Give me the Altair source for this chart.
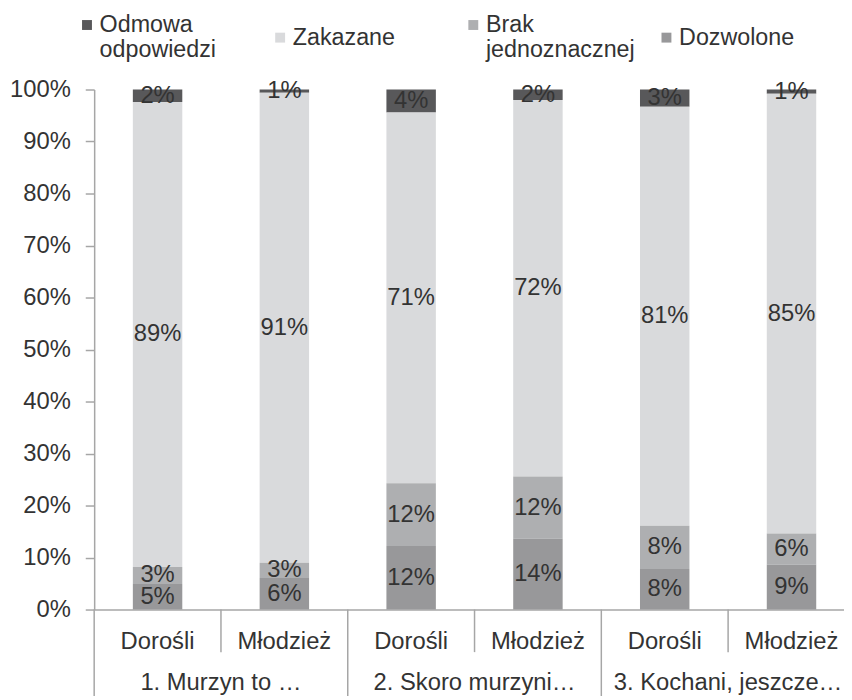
import altair as alt
import pandas as pd

groups = ["1. Murzyn to …", "2. Skoro murzyni…", "3. Kochani, jeszcze…"]
subgroups = ["Dorośli", "Młodzież"]
categories = ["Odmowa|odpowiedzi", "Zakazane", "Brak|jednoznacznej", "Dozwolone"]
colors = ["#58585a", "#d9dadc", "#aeafb1", "#98989a"]
stack_rank = [3, 2, 1, 0]  # Dozwolone at the bottom

# one value per bar, bars in order: (g1 Dorośli, g1 Młodzież, g2 D, g2 M, g3 D, g3 M)
odmowa = [2.4, 0.6, 4.4, 2.0, 3.3, 0.8]
zakazane = [89.4, 90.6, 71.3, 72.4, 80.6, 84.6]
brak = [3.3, 2.9, 12.1, 12.0, 8.3, 6.0]
dozwolone = [4.9, 6.1, 12.2, 13.6, 7.8, 8.6]

series = [odmowa, zakazane, brak, dozwolone]

slots = []
slot_group = []
slot_sub = []
for gi, g in enumerate(groups):
    for s in subgroups:
        slots.append(f"g{gi + 1}|{s}")
        slot_group.append(g)
        slot_sub.append(s)

rows = []
for ci, cat in enumerate(categories):
    for bi, slot in enumerate(slots):
        rows.append({"slot": slot, "category": cat, "rank": stack_rank[ci],
                     "value": series[ci][bi]})
df = pd.DataFrame(rows)

df_first = pd.DataFrame({"slot": [s for s, sub in zip(slots, slot_sub) if sub == subgroups[0]],
                         "group": groups})
df_second = pd.DataFrame({"slot": [s for s, sub in zip(slots, slot_sub) if sub == subgroups[1]]})

FONT = "Liberation Sans"
AX = "#a6a6a6"
TXT = "#333333"
FS = 24
PLOT_H = 525

xscale = alt.Scale(domain=slots, range=[0, 768], paddingInner=0, paddingOuter=0)
yscale = alt.Scale(domain=[0, 1], nice=False)

base = alt.Chart(df).transform_stack(
    stack="value", groupby=["slot"], as_=["y0", "y1"], offset="normalize",
    sort=[alt.SortField("rank", order="ascending")]
)

bars = base.mark_bar(width=alt.RelativeBandSize(0.39)).encode(
    x=alt.X("slot:N", scale=xscale, title=None,
            axis=alt.Axis(labelExpr="split(datum.label, '|')[1]", ticks=False,
                          labelPadding=20, labelFontSize=FS, labelFont=FONT,
                          labelColor=TXT, domainColor=AX, domainWidth=1.5,
                          labelAngle=0)),
    y=alt.Y("y0:Q", scale=yscale, title=None,
            axis=alt.Axis(values=[i / 10 for i in range(11)], format=".0%",
                          tickSize=9, labelPadding=15, labelFontSize=FS,
                          labelFont=FONT, labelColor=TXT, domainColor=AX,
                          tickColor=AX, domainWidth=1.5, tickWidth=1.5, grid=False)),
    y2="y1:Q",
    color=alt.Color("category:N",
                    scale=alt.Scale(domain=categories, range=colors),
                    legend=alt.Legend(orient="none", legendX=-19, legendY=-77,
                                      direction="horizontal", columns=4, title=None,
                                      gridAlign="all",
                                      symbolType="square", symbolSize=100,
                                      symbolStrokeWidth=0, labelFontSize=23.5,
                                      labelFont=FONT, labelColor=TXT,
                                      labelExpr="split(datum.label, '|')",
                                      columnPadding=20, labelLimit=300,
                                      labelOffset=1)),
)

labels = base.transform_calculate(
    mid="(datum.y0 + datum.y1) / 2",
    label="format(datum.value, '.0f') + '%'",
).mark_text(font=FONT, fontSize=FS, color=TXT).encode(
    x=alt.X("slot:N"),
    y=alt.Y("mid:Q"),
    text="label:N",
)

short_sep = alt.Chart(df_second).mark_rule(color=AX, strokeWidth=1.5).encode(
    x=alt.X("slot:N", bandPosition=0),
    y=alt.value(PLOT_H), y2=alt.value(PLOT_H + 43),
)
long_sep = alt.Chart(df_first).mark_rule(color=AX, strokeWidth=1.5).encode(
    x=alt.X("slot:N", bandPosition=0),
    y=alt.value(PLOT_H), y2=alt.value(PLOT_H + 95),
)
group_text = alt.Chart(df_first).mark_text(font=FONT, fontSize=FS, color=TXT,
                                            baseline="middle").encode(
    x=alt.X("slot:N", bandPosition=1),
    y=alt.value(PLOT_H + 74),
    text="group:N",
)

chart = alt.layer(bars, labels, short_sep, long_sep, group_text).properties(
    width=757, height=PLOT_H,
    autosize=alt.AutoSizeParams(type="none"),
    padding={"left": 87, "top": 79, "right": 0, "bottom": 84},
).configure_view(stroke=None)

chart.save("out.html", embed_options={"renderer": "svg", "actions": False})
